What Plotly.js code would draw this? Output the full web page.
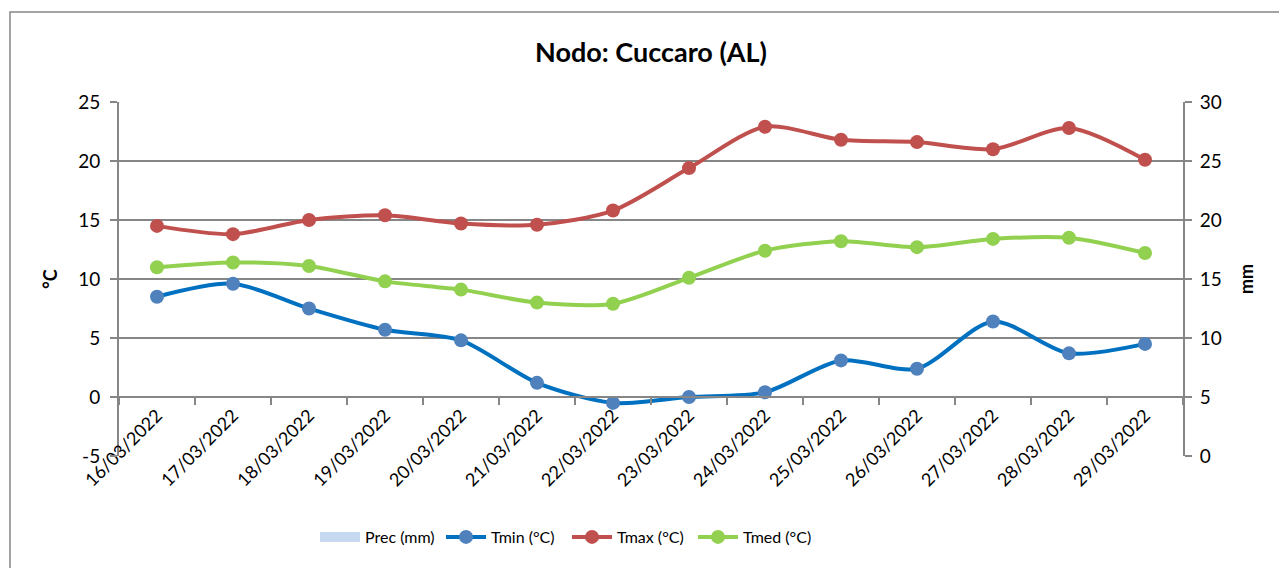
<!DOCTYPE html>
<html>
<head>
<meta charset="utf-8">
<script src="https://cdn.plot.ly/plotly-3.0.1.min.js"></script>
<style>
  html, body { margin: 0; padding: 0; background: #fff; }
  #chart { width: 1279px; height: 568px; }
</style>
</head>
<body>
<div id="chart"></div>
<script>
const dates = ["16/03/2022","17/03/2022","18/03/2022","19/03/2022","20/03/2022","21/03/2022","22/03/2022","23/03/2022","24/03/2022","25/03/2022","26/03/2022","27/03/2022","28/03/2022","29/03/2022"];
const prec = [0,0,0,0,0,0,0,0,0,0,0,0,0,0];
const tmin = [8.5, 9.6, 7.5, 5.7, 4.8, 1.2, -0.5, 0.0, 0.4, 3.1, 2.4, 6.4, 3.7, 4.5];
const tmax = [14.5, 13.8, 15.0, 15.4, 14.7, 14.6, 15.8, 19.4, 22.9, 21.8, 21.6, 21.0, 22.8, 20.1];
const tmed = [11.0, 11.4, 11.1, 9.8, 9.1, 8.0, 7.9, 10.1, 12.4, 13.2, 12.7, 13.4, 13.5, 12.2];
const yTicks = [-5, 0, 5, 10, 15, 20, 25];
const yTickText = ["-5", "0", "5", "10", "15", "20", "25"];
const y2Ticks = [0, 5, 10, 15, 20, 25, 30];

const FONT = "Lato, 'Open Sans', sans-serif";
const GRID = "#868686";
const PREC_COLOR = "#C6D9F1";

const traces = [
  {name: "Prec (mm)", type: "bar", x: dates, y: prec, yaxis: "y2",
   marker: {color: PREC_COLOR}, showlegend: false},
  {name: "Prec (mm)", type: "scatter", mode: "lines", x: [null], y: [null], yaxis: "y2",
   line: {color: PREC_COLOR, width: 13}, showlegend: true},
  {name: "Tmin (°C)", type: "scatter", mode: "lines+markers", x: dates, y: tmin,
   line: {color: "#0070C0", width: 4, shape: "spline", smoothing: 0.8},
   marker: {color: "#4F81BD", size: 14}},
  {name: "Tmax (°C)", type: "scatter", mode: "lines+markers", x: dates, y: tmax,
   line: {color: "#C0504D", width: 4, shape: "spline", smoothing: 0.8},
   marker: {color: "#C0504D", size: 14}},
  {name: "Tmed (°C)", type: "scatter", mode: "lines+markers", x: dates, y: tmed,
   line: {color: "#92D050", width: 4, shape: "spline", smoothing: 0.8},
   marker: {color: "#92D050", size: 14}}
];

const L = 119, R = 1183, T = 102, B = 456, W = 1279, H = 568;
const pw = R - L, ph = B - T;
const px = v => (v - L) / pw;
const py = v => (B - v) / ph;

const layout = {
  width: W, height: H,
  margin: {l: L, r: W - R, t: T, b: H - B, pad: 0},
  paper_bgcolor: "#fff", plot_bgcolor: "#fff",
  font: {family: FONT, size: 19, color: "#000"},
  showlegend: true,
  title: {text: "<b>Nodo: Cuccaro (AL)</b>", font: {family: FONT, size: 27, color: "#000"},
          xref: "paper", x: 0.5, xanchor: "center", y: 1 - 53 / H, yanchor: "middle"},
  xaxis: {type: "category", range: [-0.5, dates.length - 0.5], autorange: false,
          anchor: "free", position: py(397), tickson: "boundaries",
          ticks: "outside", ticklen: 7, tickcolor: GRID, tickwidth: 2,
          showline: true, linecolor: GRID, linewidth: 2, showgrid: false, zeroline: false,
          tickangle: -45, tickfont: {size: 18, family: FONT}, fixedrange: true},
  yaxis: {range: [-5, 25], autorange: false, tickmode: "array", tickvals: yTicks, ticktext: yTickText,
          showgrid: true, gridcolor: GRID, gridwidth: 2,
          zeroline: false, showline: true, linecolor: GRID, linewidth: 2,
          ticks: "outside", ticklen: 7, tickcolor: GRID, tickwidth: 2, ticklabelstandoff: 6,
          tickfont: {size: 19, family: FONT},
          title: {text: "<b>°C</b>", font: {size: 18, family: FONT}, standoff: 16}},
  yaxis2: {range: [0, 30], autorange: false, tickmode: "array", tickvals: y2Ticks,
           overlaying: "y", side: "right", showgrid: false,
           zeroline: false, showline: true, linecolor: GRID, linewidth: 2,
           ticks: "outside", ticklen: 7, tickcolor: GRID, tickwidth: 2, ticklabelstandoff: 4,
           tickfont: {size: 19, family: FONT},
           title: {text: "<b>mm</b>", font: {size: 18, family: FONT}, standoff: 20}},
  legend: {orientation: "h", x: px(315), xanchor: "left", y: py(537), yanchor: "middle",
           font: {size: 16, family: FONT}, itemwidth: 40, traceorder: "normal",
           entrywidth: 71, entrywidthmode: "pixels"},
  shapes: [{type: "rect", xref: "paper", yref: "paper",
            x0: px(10), x1: px(1300), y0: py(600), y1: py(12),
            line: {color: GRID, width: 1.5}, fillcolor: "rgba(0,0,0,0)", layer: "below"}]
};

Plotly.newPlot("chart", traces, layout, {displayModeBar: false, staticPlot: true});
</script>
</body>
</html>
